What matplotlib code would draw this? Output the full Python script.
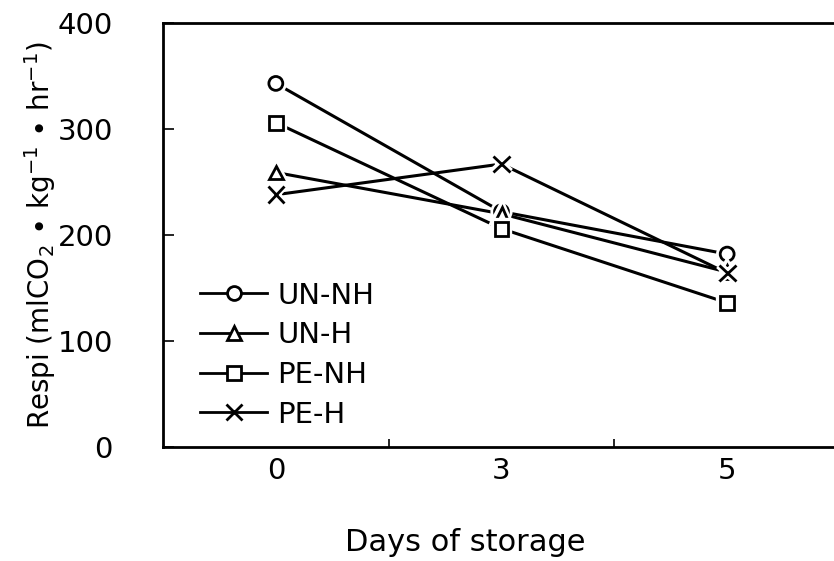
import matplotlib
matplotlib.use('Agg')
import matplotlib.pyplot as plt
import matplotlib.patheffects as pe

plt.rcParams['font.family'] = ['DejaVu Sans']

days = ['0', '3', '5']
un_nh = [343, 222, 182]
un_h = [259, 220, 165]
pe_nh = [306, 206, 136]
pe_h = [238, 267, 164]

series = [
    ('UN-NH', un_nh, 'o', 10),
    ('UN-H', un_h, '^', 10),
    ('PE-NH', pe_nh, 's', 10),
    ('PE-H', pe_h, 'x', 12),
]

fig = plt.figure(figsize=(8.34, 5.61), dpi=100)
ax = fig.add_axes([163/834, 114/561, 677/834, 424/561])

x = range(len(days))
halo = [pe.Stroke(linewidth=6, foreground='white'), pe.Normal()]
for name, vals, mk, ms in series:
    ax.plot(x, vals, color='black', lw=2.2, zorder=2)
    ax.plot(x, vals, ls='none', marker=mk, ms=ms, mec='black', mfc='white',
            mew=2.0, zorder=3, path_effects=halo)
    # legend proxy
    ax.plot([], [], color='black', lw=2.0, marker=mk, ms=ms, mec='black',
            mfc='white', mew=2.0, label=name)

ax.set_xlim(-0.5, 2.5)
ax.set_ylim(0, 400)
ax.set_yticks([0, 100, 200, 300, 400])
ax.set_xticks(list(x))
ax.set_xticklabels(days)
ax.set_xticks([0.5, 1.5], minor=True)

ax.tick_params(axis='y', direction='in', length=8, width=1.2, pad=36, labelsize=21)
ax.tick_params(axis='x', which='major', length=0, pad=7, labelsize=21)
ax.tick_params(axis='x', which='minor', direction='in', length=6, width=1.2)

for s in ax.spines.values():
    s.set_linewidth(2.0)

ax.set_xlabel('Days of storage', fontsize=22)
ax.xaxis.set_label_coords(0.446, -0.19)
ax.set_ylabel(r'Respi (mlCO$_2$ $\bullet$ kg$^{-1}$ $\bullet$ hr$^{-1}$)', fontsize=20)
ax.yaxis.set_label_coords(-0.155, 0.5)

ax.legend(loc='upper left', bbox_to_anchor=(0.055, 0.39), frameon=False,
          fontsize=21, handlelength=2.3, handletextpad=0.35, labelspacing=0.4,
          borderpad=0, borderaxespad=0)

fig.savefig('out.png', dpi=100)
